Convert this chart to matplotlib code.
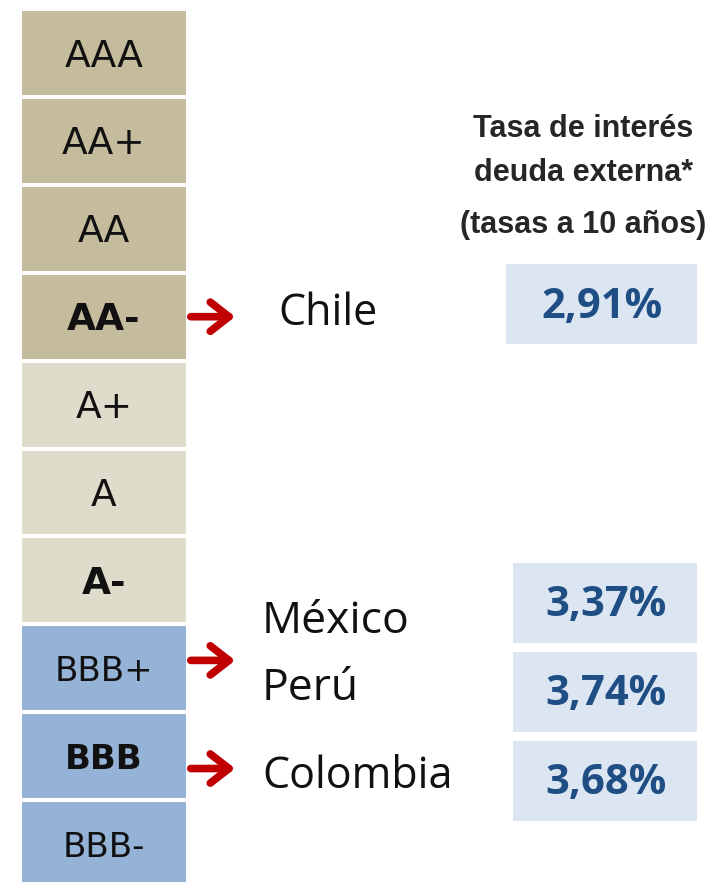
import numpy as np
import matplotlib.pyplot as plt

# rating scale, top to bottom
ratings = ["AAA", "AA+", "AA", "AA-", "A+", "A", "A-", "BBB+", "BBB", "BBB-"]
bold_ratings = ["AA-", "A-", "BBB"]
row_colors = ["#c4bc9c"] * 4 + ["#e0dccb"] * 3 + ["#95b3d7"] * 3

# countries and their rating
countries = ["Chile", "México", "Perú", "Colombia"]
country_rating = ["AA-", "BBB+", "BBB+", "BBB"]
rates = [2.91, 3.37, 3.74, 3.68]

header = ["Tasa de interés", "deuda externa*", "(tasas a 10 años)"]

# layout (row units / pixel x)
label_dy = [-0.03, -0.53, 0.23, 0.23]
arrow_dy = [0.0, -0.09, 0.14]
box_rows = [2.86, 6.26, 7.27, 8.28]
box_left = [506, 513, 513, 513]

fig = plt.figure(figsize=(7.1, 8.82), dpi=100)
ax = fig.add_axes([0, 0, 1, 1])
ax.set_xlim(0, 710)
ax.set_ylim(9.431, -0.603)
ax.axis("off")

ypos = np.arange(len(ratings))
ax.barh(ypos, 164, left=22, height=0.955, color=row_colors, edgecolor="none")
for y, r in zip(ypos, ratings):
    fs = 24.5 if r.startswith("BBB") else 27
    ax.text(104, y + 0.04, r, ha="center", va="center", fontsize=fs,
            fontweight="bold" if r in bold_ratings else "normal",
            color="#111111", family="DejaVu Sans")

# arrows (one per distinct rating)
arrow_ratings = list(dict.fromkeys(country_rating))
for r, dy in zip(arrow_ratings, arrow_dy):
    y = ratings.index(r) + dy
    ax.annotate("", xy=(238, y), xytext=(188, y),
                arrowprops=dict(arrowstyle="->,head_length=0.45,head_width=0.35",
                                lw=5.5, color="#c00000", mutation_scale=30))

for c, r, dy in zip(countries, country_rating, label_dy):
    x = 278 if c == "Chile" else 262
    fs = 31 if c in ("Chile", "Colombia") else 32
    ax.text(x, ratings.index(r) + dy, c, ha="left", va="center",
            fontsize=fs, family="Open Sans", color="#111111")

# rate boxes
widths = [697 - b for b in box_left]
ax.barh(box_rows, widths, left=box_left, height=0.91, color="#dce6f2", edgecolor="none")
for y, l, w, v in zip(box_rows, box_left, widths, rates):
    ax.text(l + w / 2 + 1, y + 0.03, f"{v:.2f}%".replace(".", ","), ha="center", va="center",
            fontsize=30, fontweight="bold", family="Open Sans", color="#1f4e85")

hy = [0.87, 1.37, 1.96]
for t, y in zip(header, hy):
    ax.text(583, y, t, ha="center", va="center", fontsize=22, fontweight="bold",
            family="Liberation Sans", color="#262626")

fig.savefig("out.png", dpi=100)
